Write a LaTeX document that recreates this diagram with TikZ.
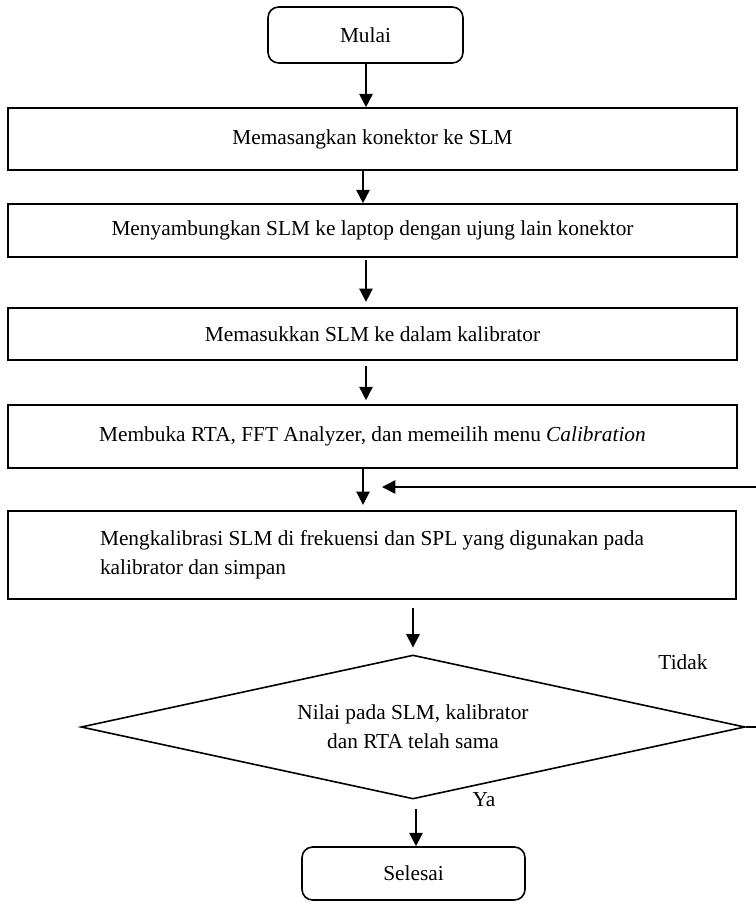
\documentclass[tikz,border=0pt]{standalone}
\usepackage{fontspec}
\setmainfont{Liberation Serif}
\usetikzlibrary{shapes.geometric,arrows.meta}
\begin{document}
\begin{tikzpicture}[x=0.75pt,y=-0.75pt,
  every node/.style={font=\fontsize{16pt}{21.5pt}\selectfont, inner sep=0pt},
  procbox/.style={draw, line width=1.2pt, rectangle, minimum width=546.75pt},
  termbox/.style={draw, line width=1.2pt, rectangle, rounded corners=8pt},
  decbox/.style={draw, line width=1.2pt, diamond, aspect=4.6, minimum width=498pt, minimum height=108pt, align=center},
  arr/.style={line width=1.2pt, -{Triangle[length=10pt,width=10pt]}},
  lbl/.style={}]
\useasboundingbox (0,0) rectangle (756,904);
\clip (0,0) rectangle (756,904);
\node[termbox, minimum width=146.25pt, minimum height=42pt] (start) at (365.5,35) {Mulai};
\node[procbox, minimum height=46.5pt] (b1) at (372.5,139) {Memasangkan konektor ke SLM};
\node[procbox, minimum height=39.75pt] (b2) at (372.5,230.5) {Menyambungkan SLM ke laptop dengan ujung lain konektor};
\node[procbox, minimum height=39pt] (b3) at (372.5,334) {Memasukkan SLM ke dalam kalibrator};
\node[procbox, minimum height=47.25pt] (b4) at (372.5,436.5) {Membuka RTA, FFT Analyzer, dan memeilih menu \textit{Calibration}};
\node[procbox, minimum width=546pt, minimum height=66pt, align=left] (b5) at (372,555) {Mengkalibrasi SLM di frekuensi dan SPL yang digunakan pada\\kalibrator dan simpan};
\node[decbox] (d) at (413,727) {Nilai pada SLM, kalibrator\\dan RTA telah sama};
\node[termbox, minimum width=167.25pt, minimum height=39.75pt] (end) at (413.5,873.5) {Selesai};
\node[lbl] (tidak) at (683,662) {Tidak};
\node[lbl] (ya) at (484,800) {Ya};
\coordinate (xa) at (366,0);
\coordinate (xb) at (363,0);
\coordinate (xc) at (413,0);
\coordinate (xd) at (416,0);
\coordinate (loopx) at (775,0);
\coordinate (lpend) at (382,487);
\draw[arr] (start.south -| xa) -- (b1.north -| xa);
\draw[arr] (b1.south -| xb) -- (b2.north -| xb);
\draw[arr] ([yshift=-2pt]b2.south -| xa) -- ([yshift=4pt]b3.north -| xa);
\draw[arr] ([yshift=-4pt]b3.south -| xa) -- ([yshift=3pt]b4.north -| xa);
\draw[arr] (b4.south -| xb) -- ([yshift=4pt]b5.north -| xb);
\draw[arr] ([yshift=-6pt]b5.south -| xc) -- ([yshift=5pt]d.north -| xc);
\draw[arr] ([yshift=-7pt]d.south -| xd) -- (end.north -| xd);
\draw[arr] (d.east) -- (d.east -| loopx) -- (lpend -| loopx) -- (lpend);
\end{tikzpicture}
\end{document}
